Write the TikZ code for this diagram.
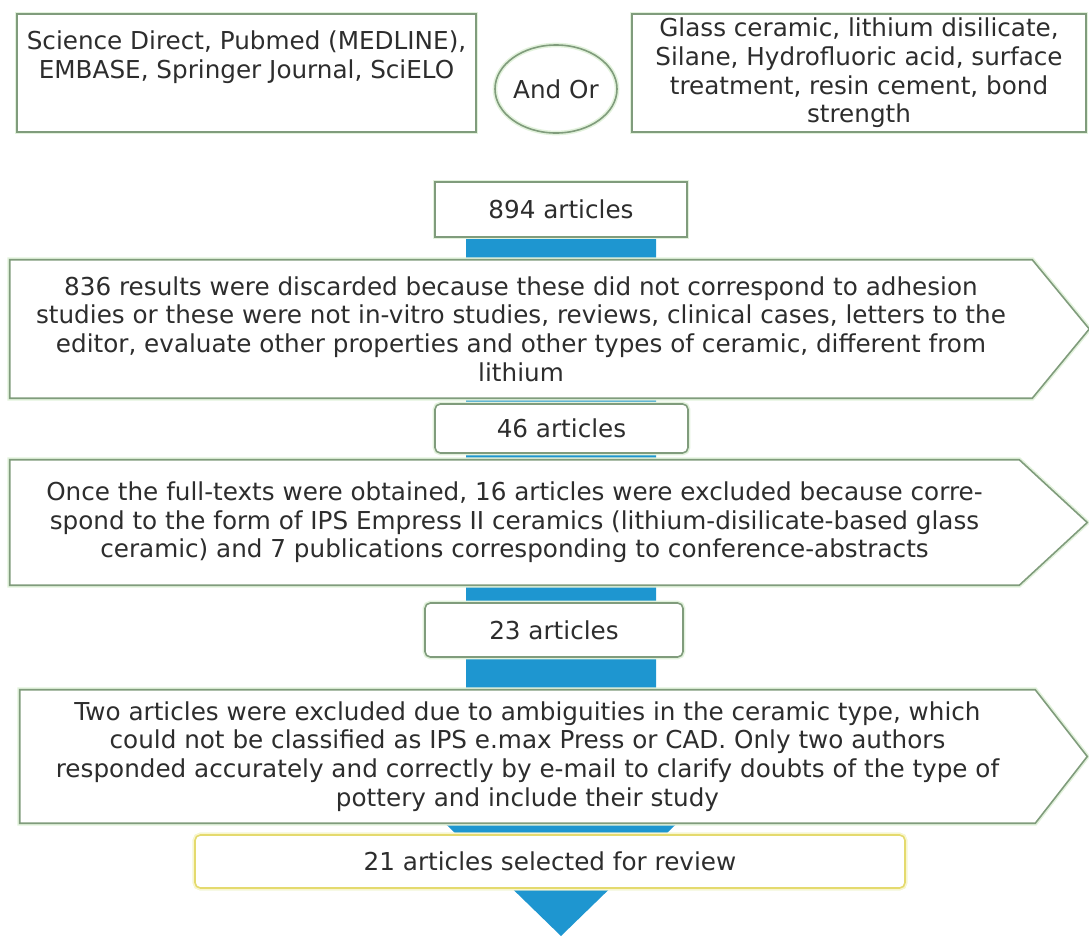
\documentclass[tikz,border=0pt]{standalone}
\usepackage{fontspec}
\setmainfont{DejaVu Sans}
\usetikzlibrary{calc,shapes.geometric}

\definecolor{boxline}{RGB}{128,156,124}
\definecolor{glow}{RGB}{226,242,220}
\definecolor{shaftblue}{RGB}{30,150,208}
\definecolor{txt}{RGB}{45,45,45}
\definecolor{yline}{RGB}{228,218,110}
\definecolor{yglow}{RGB}{250,246,205}

\pgfdeclarelayer{back}
\pgfdeclarelayer{mid}
\pgfsetlayers{back,mid,main}

\tikzset{
  every node/.style={font=\fontsize{18.5}{21.5}\selectfont, text=txt},
  halo/.style={preaction={draw=#1, line width=3.5pt}},
  rectbox/.style={draw=boxline, line width=1.2pt, fill=white, halo=glow, align=center, inner sep=0pt},
  roundbox/.style={rectbox, rounded corners=4pt},
  textbox/.style={align=center, inner sep=0pt},
  outline/.style={draw=boxline, line width=1.2pt, fill=white, halo=glow},
  shaft/.style={fill=shaftblue}
}

\begin{document}
\begin{tikzpicture}[x=0.75pt, y=0.75pt]
            \useasboundingbox (0,0) rectangle (1089,-936);
            \node[rectbox, minimum width=344.25pt, minimum height=88.5pt] (srcs) at (246.5,-73) {Science Direct, Pubmed (MEDLINE),\\EMBASE, Springer Journal, SciELO\\\strut};
            \node[ellipse, draw=boxline, line width=1.2pt, halo=glow, inner sep=0pt, minimum width=91.5pt, minimum height=66pt] (andor) at (556,-89) {And Or};
            \node[rectbox, minimum width=340.5pt, minimum height=88.5pt] (terms) at (859,-73) {Glass ceramic, lithium disilicate,\\Silane, Hydrofluoric acid, surface\\treatment, resin cement, bond\\strength};
            \node[rectbox, minimum width=189pt, minimum height=41.25pt] (n894) at (561,-209.5) {894 articles};
            \node[textbox, minimum width=766.5pt, minimum height=103.5pt] (disc1) at (521,-329) {836 results were discarded because these did not correspond to adhesion\\studies or these were not in-vitro studies, reviews, clinical cases, letters to the\\editor, evaluate other properties and other types of ceramic, different from\\lithium};
            \node[roundbox, minimum width=189.75pt, minimum height=36.75pt] (n46) at (561.5,-428.5) {46 articles};
            \node[textbox, minimum width=756.75pt, minimum height=93.75pt] (disc2) at (514.5,-522.5) {Once the full-texts were obtained, 16 articles were excluded because corre-\\spond to the form of IPS Empress II ceramics (lithium-disilicate-based glass\\ceramic) and 7 publications corresponding to conference-abstracts};
            \node[roundbox, minimum width=193.5pt, minimum height=40.5pt] (n23) at (554,-630) {23 articles};
            \node[textbox, minimum width=761.25pt, minimum height=99.75pt] (disc3) at (527.5,-756.5) {Two articles were excluded due to ambiguities in the ceramic type, which\\could not be classified as IPS e.max Press or CAD. Only two authors\\responded accurately and correctly by e-mail to clarify doubts of the type of\\pottery and include their study};
            \node[roundbox, draw=yline, halo=yglow, minimum width=532.5pt, minimum height=39.75pt] (n21) at (550,-861.5) {21 articles selected for review};
            \coordinate (tip) at (561,-936);
            \begin{pgfonlayer}{mid}
            \draw[outline] (disc1.north west) -- (disc1.north east) -- ($(disc1.east)+(57,0)$) -- (disc1.south east) -- (disc1.south west) -- cycle;
            \draw[outline] (disc2.north west) -- (disc2.north east) -- ($(disc2.east)+(68,0)$) -- (disc2.south east) -- (disc2.south west) -- cycle;
            \draw[outline] (disc3.north west) -- (disc3.north east) -- ($(disc3.east)+(52,0)$) -- (disc3.south east) -- (disc3.south west) -- cycle;
            \end{pgfonlayer}
            \begin{pgfonlayer}{back}
            \fill[shaft] ($(n894.south)+(-95,0)$) -- ($(n894.south)+(95,0)$) -- ($(tip)+(95,136)$) -- ($(tip)+(140,136)$) -- (tip) -- ($(tip)+(-140,136)$) -- ($(tip)+(-95,136)$) -- cycle;
            \end{pgfonlayer}
        \end{tikzpicture}
\end{document}
